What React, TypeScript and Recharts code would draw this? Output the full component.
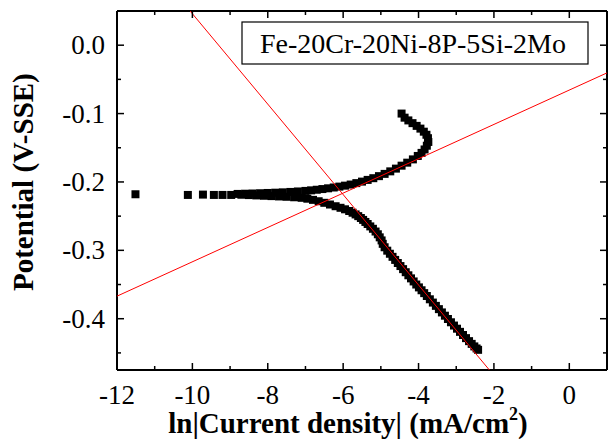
import React from 'react'
import { ScatterChart, Scatter, XAxis, YAxis, ZAxis } from 'recharts'

// ln|i| (mA/cm2) vs potential (V-SSE)
const tailPoints = [
  [-11.51, -0.218], [-10.12, -0.219], [-9.72, -0.2185], [-9.43, -0.219], [-9.2, -0.219], [-8.97, -0.219],
]

const anodicPoints = [
  [-8.8, -0.2175], [-8.6, -0.2172], [-8.4, -0.2169], [-8.2, -0.2165], [-8.0, -0.2161], [-7.8, -0.2157],
  [-7.6, -0.2152], [-7.4, -0.2146], [-7.2, -0.2139], [-7.0, -0.2131], [-6.85, -0.2123], [-6.7, -0.2114],
  [-6.55, -0.2104], [-6.4, -0.2093], [-6.25, -0.2081], [-6.1, -0.2068], [-5.95, -0.2054], [-5.8, -0.2038],
  [-5.65, -0.2017], [-5.5, -0.1995], [-5.35, -0.197], [-5.2, -0.1945], [-5.05, -0.1915], [-4.9, -0.1882],
  [-4.75, -0.1845], [-4.6, -0.1805], [-4.45, -0.1762], [-4.3, -0.1718], [-4.15, -0.167], [-4.02, -0.162],
  [-3.92, -0.1575], [-3.84, -0.1525], [-3.78, -0.147], [-3.74, -0.1415], [-3.75, -0.136], [-3.79, -0.131],
  [-3.86, -0.1265], [-3.95, -0.122], [-4.05, -0.118], [-4.16, -0.114], [-4.27, -0.11], [-4.37, -0.106],
  [-4.45, -0.1],
]

const cathodicPoints = [
  [-8.7, -0.2187], [-8.5, -0.2192], [-8.3, -0.2197], [-8.1, -0.2202], [-7.9, -0.2207], [-7.7, -0.2212],
  [-7.5, -0.2217], [-7.3, -0.2224], [-7.1, -0.2232], [-6.95, -0.2245], [-6.8, -0.2262], [-6.65, -0.2282],
  [-6.5, -0.2305], [-6.35, -0.233], [-6.2, -0.2355], [-6.07, -0.2378], [-5.95, -0.24], [-5.84, -0.2425],
  [-5.75, -0.245], [-5.67, -0.2475], [-5.6, -0.25], [-5.53, -0.2527], [-5.47, -0.2555], [-5.41, -0.2585],
  [-5.35, -0.2615], [-5.28, -0.265], [-5.21, -0.2685], [-5.14, -0.2725], [-5.08, -0.2765], [-5.03, -0.281],
  [-4.98, -0.2855], [-4.95, -0.2905], [-4.9, -0.2955], [-4.83, -0.3005], [-4.76, -0.305], [-4.69, -0.3095],
  [-4.62, -0.314], [-4.55, -0.3185], [-4.48, -0.323], [-4.41, -0.3275], [-4.34, -0.332], [-4.27, -0.3365],
  [-4.2, -0.341], [-4.13, -0.3455], [-4.06, -0.35], [-3.99, -0.3542], [-3.92, -0.3584], [-3.85, -0.3626],
  [-3.78, -0.3668], [-3.7, -0.3716], [-3.62, -0.3764], [-3.54, -0.3812], [-3.46, -0.386], [-3.38, -0.3908],
  [-3.3, -0.3956], [-3.22, -0.4004], [-3.14, -0.4052], [-3.06, -0.41], [-2.98, -0.4146], [-2.9, -0.4192],
  [-2.82, -0.4238], [-2.74, -0.4284], [-2.66, -0.4328], [-2.59, -0.4368], [-2.52, -0.4405], [-2.46, -0.4435],
  [-2.42, -0.4455],
]

// Tafel fit lines (end points)
const cathodicFit = [[-10.06, 0.05], [-2.12, -0.475]]
const anodicFit = [[-12, -0.367], [1, -0.0405]]

const xTicks = [-12, -11, -10, -9, -8, -7, -6, -5, -4, -3, -2, -1, 0, 1]
const yTicks = [-0.45, -0.4, -0.35, -0.3, -0.25, -0.2, -0.15, -0.1, -0.05, 0]
const xDomain = [-12, 1]
const yDomain = [-0.475, 0.05]

const FONT = '"Liberation Serif", "Times New Roman", serif'

const toObj = (pts: number[][]) => pts.map(([x, y]) => ({ x, y }))

const isMajorX = (v: number) => Math.abs(v % 2) < 1e-6
const isMajorY = (v: number) => Math.abs(v * 10 - Math.round(v * 10)) < 1e-6

const XTick = (props: any) => {
  const { x, y, payload, side } = props
  const v = payload.value
  const major = isMajorX(v)
  const len = major ? 7 : 4
  const dir = side === 'bottom' ? -1 : 1
  return (
    <g>
      <line x1={x} y1={y} x2={x} y2={y + dir * len} stroke="#000" strokeWidth={1.5} />
      {side === 'bottom' && major && (
        <text x={x} y={y + 34} textAnchor="middle" fontFamily={FONT} fontSize={27} fill="#000">
          {String(v)}
        </text>
      )}
    </g>
  )
}

const YTick = (props: any) => {
  const { x, y, payload, side } = props
  const v = payload.value
  const major = isMajorY(v)
  const len = major ? 7 : 4
  const dir = side === 'left' ? 1 : -1
  return (
    <g>
      <line x1={x} y1={y} x2={x + dir * len} y2={y} stroke="#000" strokeWidth={1.5} />
      {side === 'left' && major && (
        <text x={x - 12} y={y + 9} textAnchor="end" fontFamily={FONT} fontSize={27} fill="#000">
          {v.toFixed(1)}
        </text>
      )}
    </g>
  )
}

const noDot = () => <g />

const axisLine = { stroke: '#000', strokeWidth: 2 }

export default function App() {
  return (
    <div style={{ position: 'absolute', left: 0, top: 0, background: '#fff' }}>
      <ScatterChart width={616} height={439} margin={{ top: 10, right: 8, bottom: 9, left: 57 }}>
        <XAxis
          xAxisId="b"
          dataKey="x"
          type="number"
          domain={xDomain}
          allowDataOverflow
          ticks={xTicks}
          interval={0}
          height={60}
          tickSize={0}
          tickMargin={0}
          tickLine={false}
          axisLine={axisLine}
          tick={<XTick side="bottom" />}
        />
        <XAxis
          xAxisId="t"
          orientation="top"
          dataKey="x"
          type="number"
          domain={xDomain}
          allowDataOverflow
          ticks={xTicks}
          interval={0}
          height={1}
          tickSize={0}
          tickMargin={0}
          tickLine={false}
          axisLine={axisLine}
          tick={<XTick side="top" />}
        />
        <YAxis
          yAxisId="l"
          dataKey="y"
          type="number"
          domain={yDomain}
          allowDataOverflow
          ticks={yTicks}
          interval={0}
          width={60}
          tickSize={0}
          tickMargin={0}
          tickLine={false}
          axisLine={axisLine}
          tick={<YTick side="left" />}
        />
        <YAxis
          yAxisId="r"
          orientation="right"
          dataKey="y"
          type="number"
          domain={yDomain}
          allowDataOverflow
          ticks={yTicks}
          interval={0}
          width={1}
          tickSize={0}
          tickMargin={0}
          tickLine={false}
          axisLine={axisLine}
          tick={<YTick side="right" />}
        />
        <ZAxis zAxisId="small" range={[64, 64]} />
        <ZAxis zAxisId="big" range={[100, 100]} />
        <ZAxis zAxisId="bigger" range={[121, 121]} />
        <Scatter xAxisId="b" yAxisId="l" zAxisId="small" data={toObj(tailPoints)} fill="#000" shape="square" isAnimationActive={false} />
        <Scatter xAxisId="b" yAxisId="l" zAxisId="big" data={toObj(cathodicPoints)} fill="#000" shape="square" isAnimationActive={false} />
        <Scatter xAxisId="b" yAxisId="l" zAxisId="bigger" data={toObj(anodicPoints)} fill="#000" shape="square" isAnimationActive={false} />
        <Scatter
          xAxisId="b"
          yAxisId="l"
          zAxisId="small"
          data={toObj(cathodicFit)}
          line={{ stroke: '#ff0000', strokeWidth: 1 }}
          shape={noDot}
          isAnimationActive={false}
        />
        <Scatter
          xAxisId="b"
          yAxisId="l"
          zAxisId="small"
          data={toObj(anodicFit)}
          line={{ stroke: '#ff0000', strokeWidth: 1 }}
          shape={noDot}
          isAnimationActive={false}
        />
        <g>
          <rect x={242} y={22} width={346} height={42} fill="#fff" stroke="#000" strokeWidth={1.2} />
          <text x={260} y={53} fontFamily={FONT} fontSize={28} fill="#000">
            Fe-20Cr-20Ni-8P-5Si-2Mo
          </text>
        </g>
        <text x={348} y={433} textAnchor="middle" fontFamily={FONT} fontSize={29} fontWeight="bold" fill="#000">
          ln|Current density| (mA/cm
          <tspan fontSize={18} dy={-13}>2</tspan>
          <tspan dy={13}>)</tspan>
        </text>
        <text
          x={33}
          y={291}
          transform="rotate(-90 33 291)"
          textAnchor="start"
          fontFamily={FONT}
          fontSize={29}
          fontWeight="bold"
          fill="#000"
        >
          Potential (V-SSE)
        </text>
      </ScatterChart>
    </div>
  )
}
